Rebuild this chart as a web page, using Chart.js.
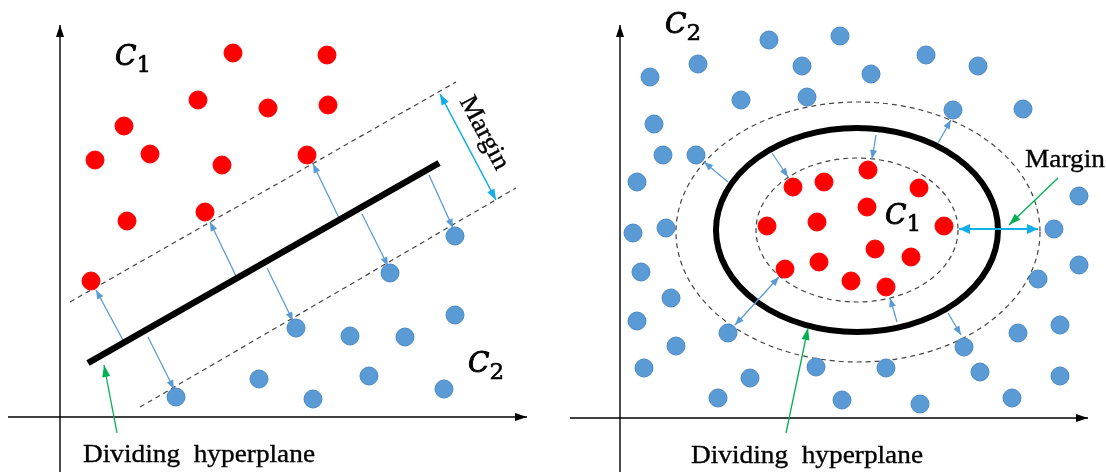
<!DOCTYPE html>
<html lang="en">
<head>
<meta charset="UTF-8">
<title>SVM margin</title>
<script src="https://cdn.jsdelivr.net/npm/chart.js"></script>
<style>
html,body{margin:0;padding:0;background:#fff;overflow:hidden}
.wrap{position:absolute;top:0;width:553px;height:472px}
</style>
</head>
<body>
<div class="wrap" style="left:0"><canvas id="leftChart"></canvas></div>
<div class="wrap" style="left:553px"><canvas id="rightChart"></canvas></div>
<script>
// ---- left panel (linear) : units measured from the axis origin ----
const leftRed = [[173,364],[267,362],[138,317],[208,309],[268,312],[64,291],[35,257],[90,263],[162,252],[247,262],[67,196],[145,205],[31,136]];
const leftBlue = [[395,181],[330,144],[236,89],[290,81],[345,80],[395,102],[199,38],[309,41],[384,28],[116,20],[253,18]];
const leftHyperplane = [[28,54,379,254]];
const leftMarginLines = [[10,115,396,335],[80,10,456,229]];
const leftSupportArrows = [[64,75,36,127],[88,80,114,28],[176,141,150,195],[207,149,233,96],[279,199,253,253],[302,203,328,151],[369,242,393,189]];
const leftMarginArrow = [[380,323,436,217]];
const leftPointer = [[57,-16,44,52]];
const leftAxes = [[-52,0,467,0],[0,-55,0,392]];

// ---- right panel (non-linear) ----
const rightRed = [[248,248],[173,231],[204,236],[299,230],[247,211],[147,192],[197,196],[324,192],[255,169],[291,161],[165,149],[199,156],[231,137],[266,131]];
const rightBlue = [[149,378],[220,382],[78,354],[30,341],[182,352],[251,344],[306,363],[358,352],[121,318],[187,321],[333,308],[403,309],[34,294],[43,263],[76,263],[17,236],[459,222],[13,185],[46,190],[434,189],[459,153],[21,146],[418,139],[51,120],[17,97],[440,93],[398,85],[56,72],[108,85],[344,71],[24,50],[196,51],[266,50],[360,46],[440,42],[130,40],[98,20],[222,18],[300,14],[392,20]];
// ellipses: centre x, centre y, radius x, radius y
const rightBoundary = [[237,188,141,102]];
const rightMarginEllipses = [[237,188,101,72],[238,186,182,130]];
const rightSupportArrows = [[256,283,252,259],[152,265,168,241],[108,236,84,256],[318,275,331,298],[277,96,270,120],[328,105,341,83]];
const rightSupportBoth = [[159,141,115,93]];
const rightMarginArrow = [[339,189,418,189]];
const rightPointers = [[438,240,389,193],[166,-15,188,90]];
const rightAxes = [[-50,0,468,0],[0,-54,0,393]];

const labelsLeft = {c1:['C','1'], c2:['C','2'], margin:'Margin', plane:'Dividing  hyperplane'};
const labelsRight = {c1:['C','1'], c2:['C','2'], margin:'Margin', plane:'Dividing  hyperplane'};

const RED = '#ff0000', BLUE = '#5b9bd5', CYAN = '#12aee8', GREEN = '#00b050';
const SERIF = '"Liberation Serif", "Times New Roman", serif';
const MATH = '"DejaVu Serif", serif';

function segs(list, style){
    return list.map(s => Object.assign({
        data:[{x:s[0],y:s[1]},{x:s[2],y:s[3]}],
        showLine:true, pointRadius:0, fill:false, order:5
    }, style));
}
function pts(list, color, edge){
    return {data:list.map(p=>({x:p[0],y:p[1]})), backgroundColor:color, borderColor:edge,
        borderWidth:1, pointRadius:9, pointHoverRadius:9, showLine:false, order:0};
}

function head(ctx,x0,y0,x1,y1,len,wid,color){
    const a = Math.atan2(y1-y0,x1-x0);
    ctx.save();
    ctx.translate(x1,y1); ctx.rotate(a);
    ctx.beginPath(); ctx.moveTo(0,0); ctx.lineTo(-len,wid/2); ctx.lineTo(-len,-wid/2); ctx.closePath();
    ctx.fillStyle = color; ctx.fill();
    ctx.restore();
}

const arrowPlugin = {
    id:'arrows',
    afterDatasetsDraw(chart){
        const ctx = chart.ctx, sx = chart.scales.x, sy = chart.scales.y;
        chart.data.datasets.forEach(ds=>{
            if(!ds.arrow) return;
            const a = ds.data[0], b = ds.data[1];
            const x0=sx.getPixelForValue(a.x), y0=sy.getPixelForValue(a.y);
            const x1=sx.getPixelForValue(b.x), y1=sy.getPixelForValue(b.y);
            const [len,wid] = ds.headSize || [9,7];
            if(ds.arrow==='end'||ds.arrow==='both') head(ctx,x0,y0,x1,y1,len,wid,ds.borderColor);
            if(ds.arrow==='both') head(ctx,x1,y1,x0,y0,len,wid,ds.borderColor);
        });
    }
};

const ellipsePlugin = {
    id:'ellipses',
    beforeDatasetsDraw(chart, args, opts){
        const ctx = chart.ctx, sx = chart.scales.x, sy = chart.scales.y;
        (opts.items||[]).forEach(it=>{
            it.list.forEach(e=>{
                const cx=sx.getPixelForValue(e[0]), cy=sy.getPixelForValue(e[1]);
                const rx=Math.abs(sx.getPixelForValue(e[0]+e[2])-cx);
                const ry=Math.abs(sy.getPixelForValue(e[1]+e[3])-cy);
                ctx.save();
                ctx.beginPath(); ctx.ellipse(cx,cy,rx,ry,0,0,Math.PI*2);
                ctx.strokeStyle=it.color; ctx.lineWidth=it.width; ctx.setLineDash(it.dash||[]);
                ctx.stroke(); ctx.restore();
            });
        });
    }
};

const textPlugin = {
    id:'texts',
    afterDraw(chart, args, opts){
        const ctx = chart.ctx, sx = chart.scales.x, sy = chart.scales.y;
        (opts.items||[]).forEach(t=>{
            const x=sx.getPixelForValue(t.x), y=sy.getPixelForValue(t.y);
            ctx.save();
            ctx.fillStyle='#000';
            ctx.strokeStyle='#000';
            if(t.sub){
                ctx.textBaseline='alphabetic'; ctx.textAlign='left';
                ctx.lineWidth=0.9;
                ctx.font='italic 28px '+MATH;
                ctx.fillText(t.text[0],x,y);
                ctx.strokeText(t.text[0],x,y);
                const w=ctx.measureText(t.text[0]).width;
                ctx.font='23px '+MATH;
                ctx.lineWidth=0.6;
                ctx.fillText(t.text[1],x+w,y+7);
                ctx.strokeText(t.text[1],x+w,y+7);
            }else{
                ctx.lineWidth=0.35;
                ctx.translate(x,y);
                if(t.rot) ctx.rotate(t.rot*Math.PI/180);
                ctx.scale(1.05,1);
                ctx.font=t.size+'px '+SERIF;
                ctx.textAlign=t.align||'left';
                ctx.textBaseline=t.base||'alphabetic';
                ctx.fillText(t.text,0,0);
                ctx.strokeText(t.text,0,0);
            }
            ctx.restore();
        });
    }
};

function build(id, sets, xr, yr, ellipses, texts){
    new Chart(document.getElementById(id),{
        type:'scatter',
        data:{datasets:sets},
        options:{
            responsive:true, maintainAspectRatio:false, animation:false,
            events:[],
            layout:{padding:0, autoPadding:false},
            scales:{
                x:{type:'linear',min:xr[0],max:xr[1],display:false},
                y:{type:'linear',min:yr[0],max:yr[1],display:false}
            },
            plugins:{legend:{display:false},tooltip:{enabled:false},
                ellipses:{items:ellipses}, texts:{items:texts}}
        },
        plugins:[ellipsePlugin,arrowPlugin,textPlugin]
    });
}

const thin = {borderColor:BLUE,borderWidth:1.3,arrow:'end',headSize:[9,7]};

build('leftChart', [
    pts(leftRed,RED,RED),
    pts(leftBlue,BLUE,'#4a88c2'),
    ...segs(leftHyperplane,{borderColor:'#000',borderWidth:6.5}),
    ...segs(leftMarginLines,{borderColor:'#444',borderWidth:1.2,borderDash:[5,4]}),
    ...segs(leftSupportArrows,thin),
    ...segs(leftMarginArrow,{borderColor:CYAN,borderWidth:1.6,arrow:'both',headSize:[11,8]}),
    ...segs(leftPointer,{borderColor:GREEN,borderWidth:1.3,arrow:'end',headSize:[12,8]}),
    ...segs(leftAxes,{borderColor:'#000',borderWidth:1.4,arrow:'end',headSize:[12,8]})
], [-60,493], [-55,417], [], [
    {text:labelsLeft.c1,x:55,y:352,sub:true},
    {text:labelsLeft.c2,x:408,y:45,sub:true},
    {text:labelsLeft.margin,x:424,y:284,size:26,rot:62,align:'center',base:'middle'},
    {text:labelsLeft.plane,x:23,y:-45,size:26}
]);

build('rightChart', [
    pts(rightRed,RED,RED),
    pts(rightBlue,BLUE,'#4a88c2'),
    ...segs(rightSupportArrows,thin),
    ...segs(rightSupportBoth,Object.assign({},thin,{arrow:'both'})),
    ...segs(rightMarginArrow,{borderColor:CYAN,borderWidth:2.2,arrow:'both',headSize:[11,10]}),
    ...segs(rightPointers,{borderColor:GREEN,borderWidth:1.3,arrow:'end',headSize:[12,8]}),
    ...segs(rightAxes,{borderColor:'#000',borderWidth:1.4,arrow:'end',headSize:[12,8]})
], [-67,486], [-54,418], [
    {list:rightBoundary,color:'#000',width:6},
    {list:rightMarginEllipses,color:'#444',width:1.2,dash:[5,4]}
], [
    {text:labelsRight.c2,x:45,y:385,sub:true},
    {text:labelsRight.c1,x:265,y:194,sub:true},
    {text:labelsRight.margin,x:405,y:251,size:26},
    {text:labelsRight.plane,x:71,y:-45,size:26}
]);
</script>
</body>
</html>
